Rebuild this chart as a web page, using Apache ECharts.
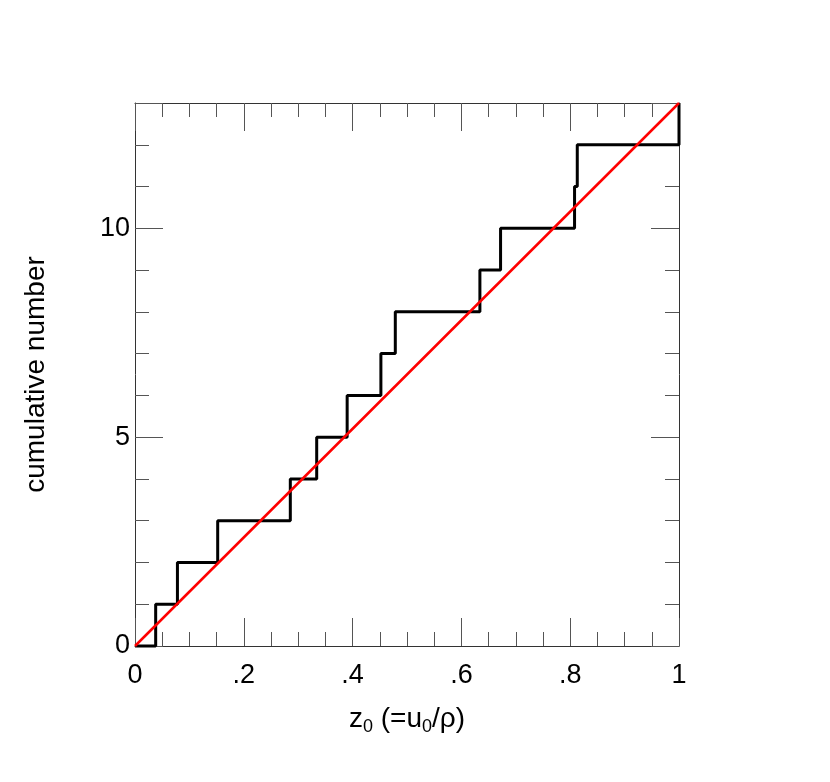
<!DOCTYPE html>
<html>
<head>
<meta charset="utf-8">
<script src="https://cdn.jsdelivr.net/npm/echarts@6/dist/echarts.min.js"></script>
<style>
html,body{margin:0;padding:0;background:#fff;}
.chart{width:830px;height:782px;}
</style>
</head>
<body>
<div class="chart"></div>
<script>
// step positions (z0 of each event) and the cumulative count reached there
var stepX = [0.038, 0.078, 0.152, 0.2855, 0.334, 0.390, 0.452, 0.4785, 0.634, 0.672, 0.808, 0.813, 1.0];
var stepY = [1, 2, 3, 4, 5, 6, 7, 8, 9, 10, 11, 12, 13];
// uniform expectation line
var lineX = [0, 1];
var lineY = [0, 13];
// tick labels
var xTickValues = [0, 0.2, 0.4, 0.6, 0.8, 1];
var xTickLabels = ['0', '.2', '.4', '.6', '.8', '1'];
var yTickValues = [0, 5, 10];
var yTickLabels = ['0', '5', '10'];

window.onload = function () {

var chart = echarts.init(document.querySelector('.chart'));

var stepData = [[0, 0]];
for (var i = 0; i < stepX.length; i++) {
	stepData.push([stepX[i], stepY[i]]);
}
var lineData = [];
for (var j = 0; j < lineX.length; j++) {
	lineData.push([lineX[j], lineY[j]]);
}

var frame = {color: '#333', width: 1};
var tickStyle = {color: '#555', width: 1};
var font = 'Liberation Sans';

function xLabel(v) {
	for (var k = 0; k < xTickValues.length; k++) {
		if (Math.abs(xTickValues[k] - v) < 1e-6) return xTickLabels[k];
	}
	return '';
}
function yLabel(v) {
	var k = yTickValues.indexOf(Math.round(v));
	return (k < 0 || Math.abs(v - Math.round(v)) > 1e-6) ? '' : yTickLabels[k];
}

// one axis per side for the short ticks, one more for the long ones
function xAx(pos, interval, len, extra) {
	var a = {
		type: 'value',
		position: pos,
		min: 0, max: 1, interval: interval,
		axisLine: {show: extra.line, onZero: false, lineStyle: frame},
		axisTick: {show: true, inside: true, length: len, lineStyle: tickStyle},
		splitLine: {show: false},
		axisLabel: {show: false}
	};
	for (var k in extra.more) a[k] = extra.more[k];
	return a;
}
function yAx(pos, interval, len, extra) {
	var a = {
		type: 'value',
		position: pos,
		min: 0, max: 13, interval: interval,
		axisLine: {show: extra.line, onZero: false, lineStyle: frame},
		axisTick: {show: true, inside: true, length: len, lineStyle: tickStyle},
		splitLine: {show: false},
		axisLabel: {show: false}
	};
	for (var k in extra.more) a[k] = extra.more[k];
	return a;
}

var option = {
	animation: false,
	backgroundColor: '#fff',
	grid: {left: 135, right: 151, top: 103, bottom: 136, containLabel: false},
	xAxis: [
		xAx('bottom', 0.05, 14, {line: true, more: {
			axisLabel: {formatter: xLabel, fontFamily: font, fontSize: 27, color: '#000', margin: 16},
			name: 'z{sub|0} (=u{sub|0}/ρ)',
			nameLocation: 'middle',
			nameGap: 56,
			nameTextStyle: {
				fontFamily: font, fontSize: 28, color: '#000', lineHeight: 34,
				rich: {
					sub: {fontFamily: font, fontSize: 18, color: '#000', lineHeight: 18, verticalAlign: 'bottom'}
				}
			}
		}}),
		xAx('bottom', 0.2, 28, {line: false}),
		xAx('top', 0.05, 14, {line: true}),
		xAx('top', 0.2, 28, {line: false})
	],
	yAxis: [
		yAx('left', 1, 14, {line: true, more: {
			axisLabel: {formatter: yLabel, fontFamily: font, fontSize: 27, color: '#000', margin: 5},
			name: 'cumulative number',
			nameLocation: 'middle',
			nameGap: 85,
			nameTextStyle: {fontFamily: font, fontSize: 28, color: '#000'}
		}}),
		yAx('left', 5, 28, {line: false}),
		yAx('right', 1, 14, {line: true}),
		yAx('right', 5, 28, {line: false})
	],
	series: [{
		type: 'line',
		step: 'end',
		xAxisIndex: 0,
		yAxisIndex: 0,
		data: stepData,
		symbol: 'none',
		clip: false,
		lineStyle: {color: '#000', width: 3},
		z: 2
	}, {
		type: 'line',
		xAxisIndex: 0,
		yAxisIndex: 0,
		data: lineData,
		symbol: 'none',
		clip: false,
		lineStyle: {color: '#ff0000', width: 2.5},
		z: 3
	}]
};

chart.setOption(option);

}
</script>
</body>
</html>
